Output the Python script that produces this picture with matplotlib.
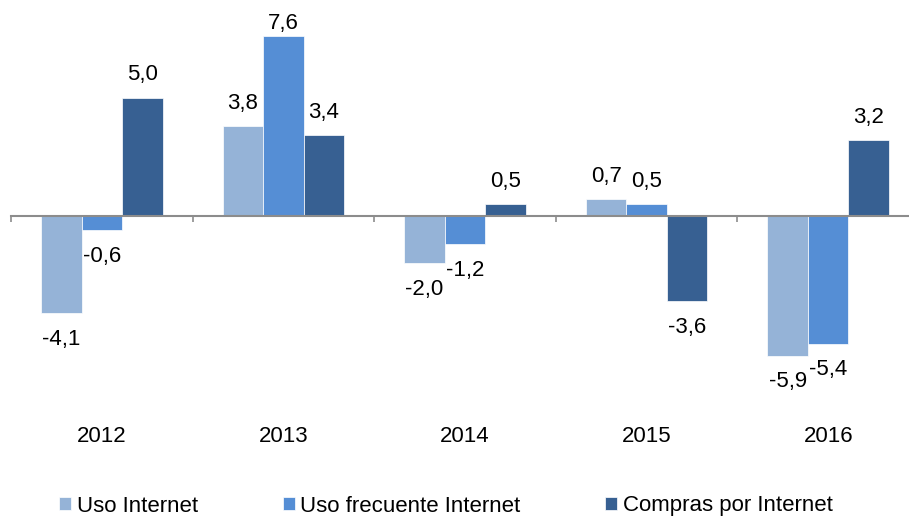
import matplotlib
matplotlib.use("Agg")
import matplotlib.pyplot as plt
import numpy as np

plt.rcParams['font.family'] = ['Liberation Sans', 'DejaVu Sans']

years = ["2012", "2013", "2014", "2015", "2016"]
series_names = ["Uso Internet", "Uso frecuente Internet", "Compras por Internet"]
uso_internet = [-4.1, 3.8, -2.0, 0.7, -5.9]
uso_frecuente = [-0.6, 7.6, -1.2, 0.5, -5.4]
compras = [5.0, 3.4, 0.5, -3.6, 3.2]
colors = ["#95B3D7", "#558ED5", "#376092"]

W, H = 909, 518
px_per_unit = 23.68   # vertical scale
zero_px = 216         # zero line from top
cat_px = 181.6        # width of one category
left_px = 11

fig = plt.figure(figsize=(W / 100, H / 100), dpi=100)
ax_w = (W - left_px) / W
ax = fig.add_axes([left_px / W, 0, ax_w, 1])

x = np.arange(len(years))
bw = 40.5 / cat_px
ylim = (-(H - zero_px) / px_per_unit, zero_px / px_per_unit)
top_lim = ylim[1] - 23 / px_per_unit

for i, (vals, name) in enumerate(zip([uso_internet, uso_frecuente, compras], series_names)):
    xs = x + (i - 1) * bw
    ax.bar(xs, vals, width=bw, color=colors[i], edgecolor="white", linewidth=0.5,
           label=name, zorder=2)
    for xi, v in zip(xs, vals):
        txt = f"{v:.1f}".replace(".", ",")
        if v >= 0:
            y = min(v + 23 / px_per_unit, top_lim)
        else:
            y = v - 26 / px_per_unit
        ax.text(xi, y, txt, ha="center", va="center", fontsize=16, color="black")

# zero axis line with category tick marks
for s in ["top", "right", "left"]:
    ax.spines[s].set_visible(False)
ax.spines["bottom"].set_position(("data", 0))
ax.spines["bottom"].set_color("#8C8C8C")
ax.spines["bottom"].set_linewidth(1.5)
ax.spines["bottom"].set_zorder(3)
ax.set_yticks([])
ax.set_xticks(np.arange(-0.5, len(years), 1.0))
ax.set_xticklabels([])
ax.tick_params(axis="x", direction="out", length=4.5, width=1.2, color="#8C8C8C")

ax.set_xlim(-0.5, -0.5 + (W - left_px) / cat_px)
ax.set_ylim(*ylim)

# year labels at the bottom
for xi, yr in zip(x, years):
    ax.text(xi, (H - 437) / H, yr, transform=ax.get_xaxis_transform(),
            ha="center", va="center", fontsize=16)

fig.legend(loc="center", bbox_to_anchor=(446 / W, (H - 506) / H), ncol=3,
           frameon=False, fontsize=16, handlelength=0.55, handleheight=0.55,
           handletextpad=0.25, columnspacing=3.8, borderaxespad=0)

fig.savefig("out.png", dpi=100)
